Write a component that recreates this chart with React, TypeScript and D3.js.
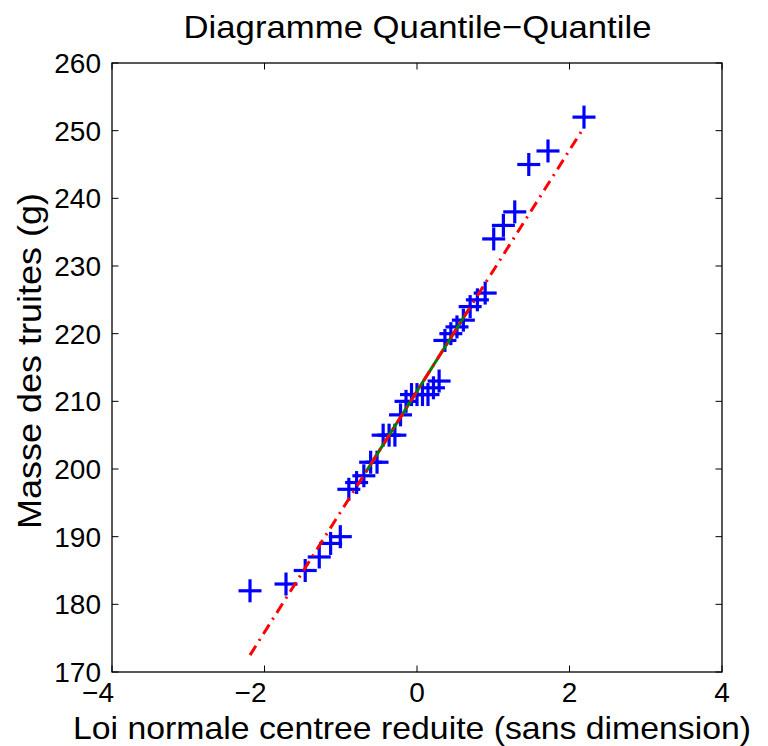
import React from "react";
import * as d3 from "d3";

const quantilesX = [-2.19, -1.718, -1.466, -1.282, -1.133, -1.006, -0.894, -0.792, -0.697, -0.608, -0.524, -0.444, -0.366, -0.29, -0.216, -0.144, -0.072, 0, 0.072, 0.144, 0.216, 0.29, 0.366, 0.444, 0.524, 0.608, 0.697, 0.792, 0.894, 1.006, 1.133, 1.282, 1.466, 1.718, 2.19];
const massesY = [182, 183, 185, 187, 189, 190, 197, 198, 199, 201, 201, 205, 205, 205, 208, 210, 211, 211, 211, 211, 212, 213, 219, 220, 221, 222, 224, 225, 226, 234, 236, 238, 245, 247, 252];
const refLineX = [-2.19, 2.19];
const refLineY = [172.5, 250.5];
const quartLineX = [-0.674, 0.674];
const quartLineY = [199.5, 223.5];
const xTicks = [-4, -2, 0, 2, 4];
const yTicks = [170, 180, 190, 200, 210, 220, 230, 240, 250, 260];
const title = "Diagramme Quantile\u2212Quantile";
const xLabel = "Loi normale centree reduite (sans dimension)";
const yLabel = "Masse des truites (g)";

const W = 768, H = 746;
const L = 112, R = 722, T = 63, B = 672;
const font = "'Liberation Sans', Arial, Helvetica, sans-serif";

export default function App() {
  const x = d3.scaleLinear().domain([-4, 4]).range([L, R]);
  const y = d3.scaleLinear().domain([170, 260]).range([B, T]);
  const line = d3.line<[number, number]>().x(d => x(d[0])).y(d => y(d[1]));
  const fmt = (v: number) => (v < 0 ? "\u2212" + Math.abs(v) : String(v));
  const tl = 6.5;
  const arm = 11.5;
  return (
    <svg width={W} height={H} style={{ position: "absolute", left: 0, top: 0, background: "#fff" }} fontFamily={font}>
      <rect x={0} y={0} width={W} height={H} fill="#fff" />
      {xTicks.map(t => (
        <g key={"xt" + t} stroke="#000" strokeWidth={1}>
          <line x1={x(t)} x2={x(t)} y1={B} y2={B - tl} />
          <line x1={x(t)} x2={x(t)} y1={T} y2={T + tl} />
        </g>
      ))}
      {yTicks.map(t => (
        <g key={"yt" + t} stroke="#000" strokeWidth={1}>
          <line x1={L} x2={L + tl} y1={y(t)} y2={y(t)} />
          <line x1={R} x2={R - tl} y1={y(t)} y2={y(t)} />
        </g>
      ))}
      <g stroke="#0000ff" strokeWidth={3.2}>
        {quantilesX.map((qx, i) => (
          <g key={"m" + i}>
            <line x1={x(qx) - arm} x2={x(qx) + arm} y1={y(massesY[i])} y2={y(massesY[i])} />
            <line x1={x(qx)} x2={x(qx)} y1={y(massesY[i]) - arm} y2={y(massesY[i]) + arm} />
          </g>
        ))}
      </g>
      <path d={line(quartLineX.map((v, i) => [v, quartLineY[i]]) as any) || ""} stroke="#008000" strokeWidth={3} fill="none" />
      <path d={line(refLineX.map((v, i) => [v, refLineY[i]]) as any) || ""} stroke="#ff0000" strokeWidth={3} fill="none" strokeDasharray="11,6,2,6" />
      <rect x={L} y={T} width={R - L} height={B - T} fill="none" stroke="#000" strokeWidth={1.3} />
      {xTicks.map(t => (
        <text key={"xl" + t} x={x(t)} dx={t < 0 ? -14 : 0} y={702} textAnchor="middle" fontSize={28}>{fmt(t)}</text>
      ))}
      {yTicks.map(t => (
        <text key={"yl" + t} x={101} y={y(t) + 10} textAnchor="end" fontSize={28}>{fmt(t)}</text>
      ))}
      <text x={417.5} y={38} textAnchor="middle" fontSize={32} textLength={468} lengthAdjust="spacingAndGlyphs">{title}</text>
      <text x={412} y={739} textAnchor="middle" fontSize={32} textLength={678} lengthAdjust="spacingAndGlyphs">{xLabel}</text>
      <text transform="translate(41,361) rotate(-90)" textAnchor="middle" fontSize={33} textLength={336} lengthAdjust="spacingAndGlyphs">{yLabel}</text>
    </svg>
  );
}
